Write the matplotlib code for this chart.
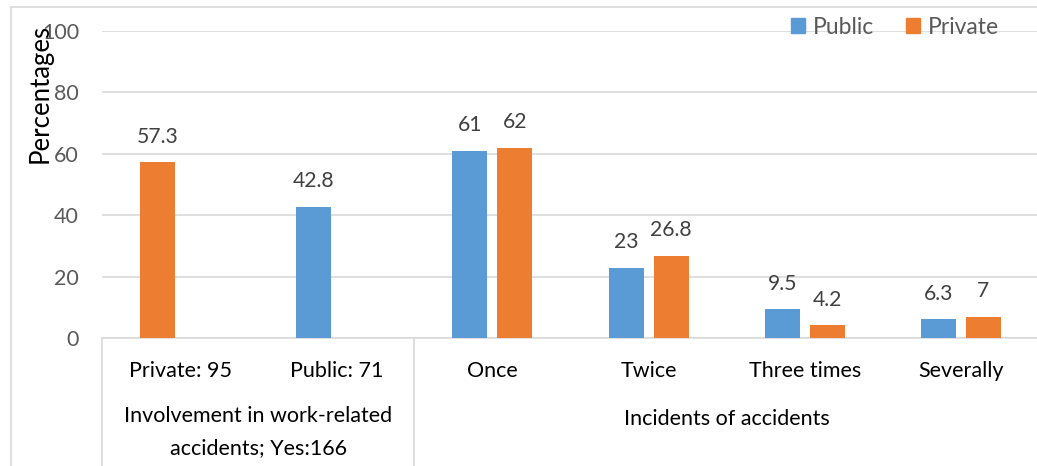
import matplotlib
matplotlib.use("Agg")
import matplotlib.pyplot as plt
import numpy as np
from matplotlib.patches import Patch

categories = ["Private: 95", "Public: 71", "Once", "Twice", "Three times", "Severally"]
groups = ["Involvement in work-related\naccidents; Yes:166", "Incidents of accidents"]
# involvement bars (one bar per category, placed in the left slot)
involve_vals = [57.3, 42.8]
involve_series = ["Private", "Public"]
# incidents, per series
public_vals = [61, 23, 9.5, 6.3]
private_vals = [62, 26.8, 4.2, 7]

blue = "#5B9BD5"
orange = "#ED7D31"
grid_c = "#D9D9D9"

plt.rcParams["font.family"] = ["Lato", "DejaVu Sans"]

fig = plt.figure(figsize=(10.37, 4.66), dpi=100)
ax = fig.add_axes([102 / 1037, 127.7 / 466, 1 - 102 / 1037 + 0.002, 307.6 / 466])

w = 0.224
off = 0.144
x = np.arange(len(categories))
lab_fs = 15.2
lab_off = 5.0

# involvement bars
for i, (v, s) in enumerate(zip(involve_vals, involve_series)):
    c = orange if s == "Private" else blue
    ax.bar(x[i] - off, v, w, color=c, zorder=3)
    ax.text(x[i] - off, v + lab_off, f"{v:g}", ha="center", va="bottom",
            fontsize=lab_fs, color="#404040")

xi = x[2:]
ax.bar(xi - off, public_vals, w, color=blue, zorder=3, label="Public")
ax.bar(xi + off, private_vals, w, color=orange, zorder=3, label="Private")
for xx, v in zip(xi - off, public_vals):
    ax.text(xx, v + lab_off, f"{v:g}", ha="center", va="bottom", fontsize=lab_fs, color="#404040")
for xx, v in zip(xi + off, private_vals):
    ax.text(xx, v + lab_off, f"{v:g}", ha="center", va="bottom", fontsize=lab_fs, color="#404040")

ax.set_ylim(0, 100)
ax.set_xlim(-0.5, len(categories) - 0.5)
ax.set_yticks(range(0, 101, 20))
ax.yaxis.grid(True, color=grid_c, linewidth=1.2, zorder=0)
ax.set_axisbelow(True)
for sp in ["top", "right", "left"]:
    ax.spines[sp].set_visible(False)
ax.spines["bottom"].set_color(grid_c)
ax.spines["bottom"].set_linewidth(1.2)
ax.tick_params(axis="y", length=0, pad=16.5, labelsize=15.5, labelcolor="#595959")
ax.set_xticks(x)
ax.set_xticklabels(categories)
ax.tick_params(axis="x", length=0, pad=16.5, labelsize=15.5, labelcolor="#000000")

ax.set_ylabel("Percentages", fontsize=18.5, color="#000000")
ax.yaxis.set_label_coords(-0.053, 0.795)

# group separators and group labels
trans = ax.get_xaxis_transform()
for xs in [-0.5, 1.5, 5.5]:
    ax.plot([xs, xs], [0, -0.45], transform=trans, color=grid_c, lw=1.2, clip_on=False)
ax.text(0.5, -0.305, groups[0], transform=trans, ha="center", va="center",
        fontsize=15.5, linespacing=1.75)
ax.text(3.5, -0.262, groups[1], transform=trans, ha="center", va="center", fontsize=15.5)

# outer chart border
fig.add_artist(plt.Line2D([11 / 1037, 11 / 1037], [0, 1 - 7 / 466],
                          transform=fig.transFigure, color=grid_c, lw=1.2))
fig.add_artist(plt.Line2D([11 / 1037, 1], [1 - 7 / 466, 1 - 7 / 466],
                          transform=fig.transFigure, color=grid_c, lw=1.2))

handles = [Patch(color=blue, label="Public"), Patch(color=orange, label="Private")]
leg = fig.legend(handles=handles, loc="center left", bbox_to_anchor=(791 / 1037, 1 - 27 / 466),
                 ncol=2, frameon=False, fontsize=16.5, handlelength=0.6, handleheight=0.6,
                 handletextpad=0.35, columnspacing=1.4, borderaxespad=0, borderpad=0)
for t in leg.get_texts():
    t.set_color("#595959")

fig.savefig("out.png", dpi=100)
